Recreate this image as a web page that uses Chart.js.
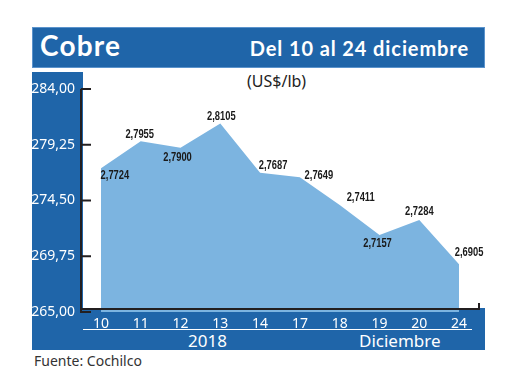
<!DOCTYPE html>
<html>
<head>
<meta charset="utf-8">
<script src="https://cdn.jsdelivr.net/npm/chart.js@4"></script>
<style>
  body { margin: 0; background: #fff; width: 520px; height: 390px; overflow: hidden; position: relative; }
  .blue { position: absolute; background: #1f65a9; }
  #titlebar { left: 32px; top: 27px; width: 451px; height: 39px; border: 1px solid #5b93cc; }
  #leftcol { left: 32px; top: 72px; width: 51px; height: 278px; }
  #bottom { left: 32px; top: 308px; width: 453px; height: 42px; }
  .txt { position: absolute; white-space: nowrap; }
  #cobre { left: 40px; top: 28px; font: bold 28px Lato, sans-serif; color: #fff; letter-spacing: 1.2px; }
  #fecha { right: 51px; top: 36px; font: bold 20px Lato, sans-serif; color: #fff; letter-spacing: 0.9px; }
  #unidad { left: 247px; top: 70px; font: 16px "Noto Sans", sans-serif; color: #222; }
  #sep { position: absolute; left: 83px; top: 329px; width: 389px; height: 1px; background: #fff; }
  #anio { left: 188px; top: 329px; font: 17px "Noto Sans", sans-serif; color: #fff; }
  #mes { left: 359px; top: 329px; font: 17px "Noto Sans", sans-serif; color: #fff; }
  #fuente { left: 34px; top: 351px; font: 14px "Noto Sans", sans-serif; color: #333; }
  canvas { position: absolute; left: 0; top: 0; }
</style>
</head>
<body>
<div class="blue" id="titlebar"></div>
<div class="blue" id="leftcol"></div>
<div class="blue" id="bottom"></div>
<div class="txt" id="cobre">Cobre</div>
<div class="txt" id="fecha">Del 10 al 24 diciembre</div>
<div class="txt" id="unidad">(US$/lb)</div>
<div id="sep"></div>
<div class="txt" id="anio">2018</div>
<div class="txt" id="mes">Diciembre</div>
<div class="txt" id="fuente">Fuente: Cochilco</div>
<canvas id="cobreChart" width="520" height="390"></canvas>
<script>
// Data (US cents per lb; labels show US$/lb)
const days = ['10', '11', '12', '13', '14', '17', '18', '19', '20', '24'];
const prices = [277.24, 279.55, 279.00, 281.05, 276.87, 276.49, 274.11, 271.57, 272.84, 269.05];
const yTicks = [265.00, 269.75, 274.50, 279.25, 284.00];

// label offsets from each point [dx, dy]
const labelShift = [[14, 7], [-1, -7], [-3, 10], [1, -7], [13, -7], [19, -2], [21, -8], [-2, 9], [0, -9], [10, -12]];

const fmt = (v, d) => v.toFixed(d).replace('.', ',');

// axis lines with inside ticks + value labels
const decorate = {
  id: 'decorate',
  afterDatasetsDraw(chart) {
    const { ctx, chartArea, scales } = chart;
    const y = scales.y;
    ctx.save();
    ctx.strokeStyle = '#231f20';
    ctx.lineWidth = 2;
    ctx.beginPath();
    ctx.moveTo(chartArea.left, y.getPixelForValue(yTicks[yTicks.length - 1]));
    ctx.lineTo(chartArea.left, y.getPixelForValue(yTicks[0]) + 1);
    ctx.moveTo(chartArea.left, chartArea.bottom - 3);
    ctx.lineTo(chartArea.right, chartArea.bottom - 3);
    ctx.lineTo(chartArea.right, chartArea.bottom - 9);
    yTicks.forEach(t => {
      const py = y.getPixelForValue(t);
      ctx.moveTo(chartArea.left, py);
      ctx.lineTo(chartArea.left + 10, py);
    });
    ctx.stroke();

    // condensed bold value labels
    const meta = chart.getDatasetMeta(0);
    ctx.fillStyle = '#1a1a1a';
    ctx.font = 'bold 13px "Liberation Sans", Arial, sans-serif';
    ctx.textAlign = 'center';
    ctx.textBaseline = 'middle';
    meta.data.forEach((pt, i) => {
      const s = labelShift[i];
      ctx.save();
      ctx.translate(pt.x + s[0], pt.y + s[1]);
      ctx.scale(0.72, 1);
      ctx.fillText(fmt(prices[i] / 100, 4), 0, 0);
      ctx.restore();
    });
    ctx.restore();
  }
};

new Chart(document.getElementById('cobreChart'), {
  type: 'line',
  data: {
    labels: days,
    datasets: [{
      data: prices,
      fill: 'start',
      backgroundColor: '#7cb4e0',
      borderWidth: 0,
      pointRadius: 0,
      tension: 0
    }]
  },
  options: {
    responsive: false,
    animation: false,
    layout: { padding: { top: 89, right: 41, left: 0, bottom: 0 } },
    plugins: { legend: { display: false }, tooltip: { enabled: false } },
    scales: {
      x: {
        offset: true,
        grid: { display: false, drawTicks: false },
        border: { display: false },
        afterFit: s => { s.height = 78; },
        ticks: { color: '#fff', padding: 4, font: { family: 'Noto Sans', size: 14 } }
      },
      y: {
        min: yTicks[0],
        max: yTicks[yTicks.length - 1],
        afterBuildTicks: s => { s.ticks = yTicks.map(v => ({ value: v })); },
        grid: { display: false, drawTicks: false },
        border: { display: false },
        afterFit: s => { s.width = 81; },
        ticks: {
          color: '#fff', padding: 6,
          font: { family: 'Noto Sans', size: 14 },
          callback: v => fmt(v, 2)
        }
      }
    }
  },
  plugins: [decorate]
});
</script>
</body>
</html>
